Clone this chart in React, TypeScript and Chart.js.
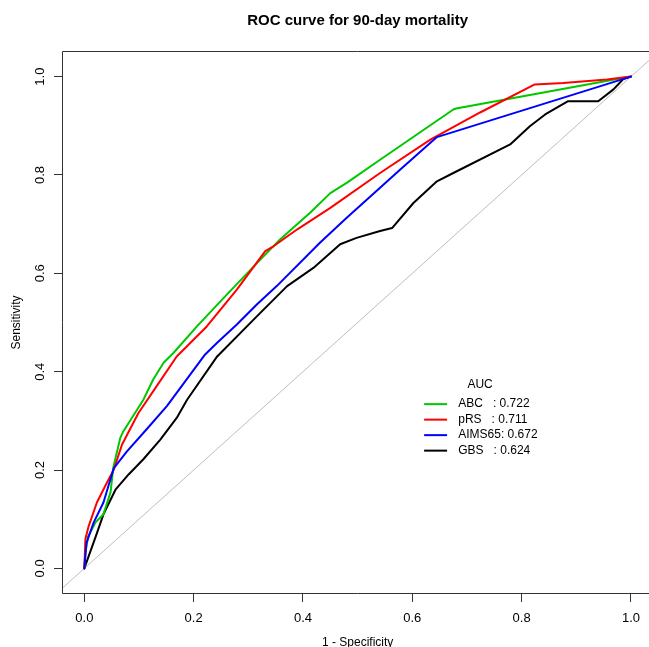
import React, { useEffect, useRef } from 'react';
import { Chart, registerables } from 'chart.js';

Chart.register(...registerables);

const chartTitle = 'ROC curve for 90-day mortality';
const xAxisTitle = '1 - Specificity';
const yAxisTitle = 'Sensitivity';
const legendTitle = 'AUC';

const seriesNames = ['ABC', 'pRS', 'AIMS65', 'GBS'];
const aucValues = [0.722, 0.711, 0.672, 0.624];
const seriesColors = ['#00c800', '#ff0000', '#0000ff', '#000000'];

const abcFpr = [0, 0.002, 0.007, 0.02, 0.035, 0.048, 0.053, 0.066, 0.071, 0.108, 0.126, 0.145, 0.163, 0.206, 0.255, 0.31, 0.358, 0.413, 0.45, 0.48, 0.541, 0.675, 0.68, 1];
const abcTpr = [0, 0.033, 0.065, 0.093, 0.11, 0.155, 0.205, 0.266, 0.278, 0.343, 0.384, 0.418, 0.438, 0.492, 0.55, 0.614, 0.669, 0.723, 0.763, 0.784, 0.831, 0.933, 0.935, 1];

const prsFpr = [0, 0.002, 0.004, 0.008, 0.023, 0.038, 0.054, 0.069, 0.099, 0.124, 0.169, 0.224, 0.279, 0.331, 0.346, 0.389, 0.45, 0.541, 0.633, 0.724, 0.824, 0.876, 0.956, 1];
const prsTpr = [0, 0.06, 0.069, 0.086, 0.134, 0.167, 0.201, 0.252, 0.316, 0.357, 0.431, 0.492, 0.567, 0.645, 0.655, 0.689, 0.733, 0.804, 0.872, 0.927, 0.984, 0.987, 0.994, 1];

const aimsFpr = [0, 0.004, 0.017, 0.035, 0.054, 0.078, 0.114, 0.151, 0.221, 0.243, 0.279, 0.316, 0.352, 0.431, 0.48, 0.541, 0.578, 0.645, 1];
const aimsTpr = [0, 0.052, 0.093, 0.134, 0.204, 0.238, 0.283, 0.33, 0.435, 0.459, 0.496, 0.537, 0.574, 0.662, 0.713, 0.774, 0.811, 0.877, 1];

const gbsFpr = [0, 0.008, 0.02, 0.035, 0.057, 0.081, 0.108, 0.139, 0.169, 0.188, 0.243, 0.316, 0.371, 0.419, 0.468, 0.498, 0.541, 0.563, 0.602, 0.645, 0.675, 0.779, 0.815, 0.843, 0.885, 0.94, 0.968, 0.986, 1];
const gbsTpr = [0, 0.025, 0.062, 0.11, 0.16, 0.191, 0.222, 0.262, 0.306, 0.343, 0.431, 0.513, 0.574, 0.611, 0.659, 0.672, 0.686, 0.692, 0.743, 0.787, 0.804, 0.862, 0.899, 0.923, 0.95, 0.95, 0.974, 0.995, 1];

const diagonalLine = [-0.1, 1.1];
const tickValues = [0, 0.2, 0.4, 0.6, 0.8, 1.0];

const FONT = '"Liberation Sans", Arial, Helvetica, sans-serif';

const toPoints = (xs: number[], ys: number[]) => xs.map((v, i) => ({ x: v, y: ys[i] }));

const boxPlugin = {
  id: 'plotBox',
  beforeDatasetsDraw(chart: any) {
    const { ctx, chartArea } = chart;
    ctx.save();
    ctx.strokeStyle = '#333';
    ctx.lineWidth = 1;
    const l = Math.round(chartArea.left) - 0.5;
    const t = Math.round(chartArea.top) - 0.5;
    const r = Math.round(chartArea.right) + 0.5;
    const b = Math.round(chartArea.bottom) + 0.5;
    ctx.beginPath();
    ctx.moveTo(r, t);
    ctx.lineTo(l, t);
    ctx.lineTo(l, b);
    ctx.lineTo(r, b);
    ctx.stroke();
    ctx.restore();
  },
};

const legendPlugin = {
  id: 'aucLegend',
  afterDatasetsDraw(chart: any) {
    const { ctx } = chart;
    const xs = chart.scales.x;
    const ys = chart.scales.y;
    ctx.save();
    ctx.font = '12px ' + FONT;
    ctx.fillStyle = '#000';
    ctx.textBaseline = 'middle';
    ctx.textAlign = 'center';
    ctx.fillText(legendTitle, xs.getPixelForValue(0.724), ys.getPixelForValue(0.374));
    const x0 = xs.getPixelForValue(0.6216);
    const x1 = xs.getPixelForValue(0.6636);
    const tx = xs.getPixelForValue(0.684);
    const y0 = ys.getPixelForValue(0.334);
    seriesNames.forEach((name, i) => {
      const yy = y0 + i * 15.5;
      ctx.strokeStyle = seriesColors[i];
      ctx.lineWidth = 2;
      ctx.beginPath();
      ctx.moveTo(x0, yy);
      ctx.lineTo(x1, yy);
      ctx.stroke();
      ctx.textAlign = 'left';
      ctx.fillText(name.padEnd(6, ' ') + ': ' + aucValues[i].toFixed(3), tx, yy);
    });
    ctx.restore();
  },
};

export default function App() {
  const canvasRef = useRef<HTMLCanvasElement | null>(null);

  useEffect(() => {
    document.documentElement.style.overflow = 'hidden';
    document.body.style.overflow = 'hidden';
    document.body.style.margin = '0';
    const canvas = canvasRef.current;
    if (!canvas) return;

    const curves = [
      { fpr: abcFpr, tpr: abcTpr, order: 2 },
      { fpr: prsFpr, tpr: prsTpr, order: 1 },
      { fpr: aimsFpr, tpr: aimsTpr, order: 0 },
      { fpr: gbsFpr, tpr: gbsTpr, order: 3 },
    ];

    const datasets: any[] = curves.map((c, i) => ({
      label: seriesNames[i],
      data: toPoints(c.fpr, c.tpr),
      borderColor: seriesColors[i],
      backgroundColor: seriesColors[i],
      borderWidth: 2,
      pointRadius: 0,
      tension: 0,
      fill: false,
      borderJoinStyle: 'round',
      borderCapStyle: 'round',
      order: c.order,
      clip: 0,
    }));
    datasets.push({
      label: 'diagonal',
      data: toPoints(diagonalLine, diagonalLine),
      borderColor: '#bebebe',
      borderWidth: 1,
      pointRadius: 0,
      fill: false,
      order: 4,
      clip: 0,
    });

    const tickFont = { size: 13, family: FONT };
    const gridOpts = {
      display: true,
      drawOnChartArea: false,
      drawTicks: true,
      tickLength: 9,
      color: '#333',
      lineWidth: 1,
    };

    const chart = new Chart(canvas, {
      type: 'line',
      data: { datasets },
      options: {
        animation: false,
        responsive: false,
        devicePixelRatio: 1,
        layout: { padding: { left: 0, right: 7.7, top: 0, bottom: 12 } },
        plugins: {
          legend: { display: false },
          tooltip: { enabled: false },
          title: {
            display: true,
            text: chartTitle,
            color: '#000',
            font: { size: 15, weight: 'bold', family: FONT },
            padding: { top: 12, bottom: 22 },
            fullSize: false,
          },
        },
        scales: {
          x: {
            type: 'linear',
            min: -0.039,
            max: 1.039,
            grid: gridOpts,
            border: { display: false },
            afterBuildTicks: (scale: any) => {
              scale.ticks = tickValues.map((v) => ({ value: v }));
            },
            afterFit: (scale: any) => {
              scale.height = 60;
            },
            ticks: {
              color: '#000',
              font: tickFont,
              padding: 8.2,
              maxRotation: 0,
              autoSkip: false,
              callback: (v: any) => Number(v).toFixed(1),
            },
            title: {
              display: true,
              text: xAxisTitle,
              color: '#000',
              font: { size: 12, family: FONT },
              padding: { top: 0, bottom: 3 },
            },
          },
          y: {
            type: 'linear',
            min: -0.05,
            max: 1.05,
            grid: gridOpts,
            border: { display: false },
            afterBuildTicks: (scale: any) => {
              scale.ticks = tickValues.map((v) => ({ value: v }));
            },
            afterFit: (scale: any) => {
              scale.width = 63;
            },
            ticks: {
              color: '#000',
              font: tickFont,
              padding: 5,
              minRotation: 90,
              maxRotation: 90,
              crossAlign: 'center',
              autoSkip: false,
              callback: (v: any) => Number(v).toFixed(1),
            },
            title: {
              display: true,
              text: yAxisTitle,
              color: '#000',
              font: { size: 12, family: FONT },
              padding: { top: 9.8, bottom: 0 },
            },
          },
        },
      } as any,
      plugins: [boxPlugin, legendPlugin],
    });

    return () => chart.destroy();
  }, []);

  return (
    <div style={{ position: 'fixed', left: 0, top: 0, width: 660, height: 665, background: '#fff' }}>
      <canvas ref={canvasRef} width={660} height={665} style={{ display: 'block' }} />
    </div>
  );
}
